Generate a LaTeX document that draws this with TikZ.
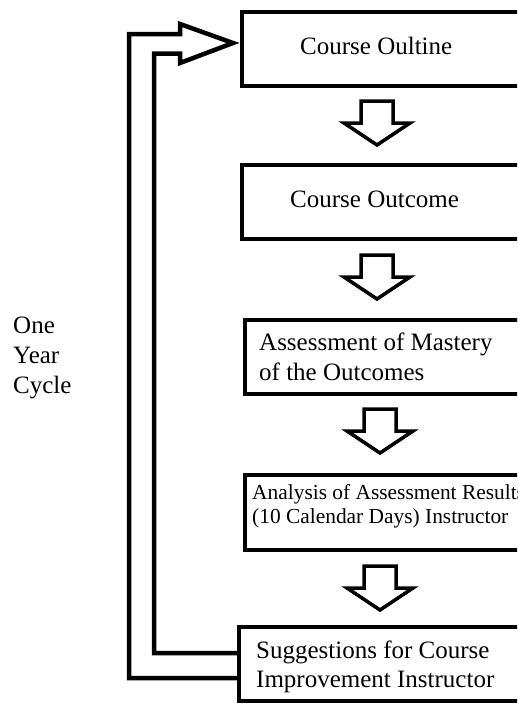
\documentclass[tikz,border=0pt]{standalone}
\usepackage{fontspec}
\setmainfont{Liberation Serif}
\begin{document}
\begin{tikzpicture}[x=1pt,y=-1pt,
  stagebox/.style={draw=black, line width=4pt, fill=white, outer sep=0pt,
    minimum width=330pt, minimum height=74pt, anchor=north west, inner sep=0pt},
  lbl/.style={inner sep=0pt, anchor=base west, align=left,
    font=\fontsize{25}{30}\selectfont},
  smalllbl/.style={lbl, font=\fontsize{21.4}{24}\selectfont},
  blockarrow/.style={draw=black, line width=3.5pt, fill=white, line join=miter},
  loop/.style={draw=black, line width=4.5pt, line join=miter},
  pics/downarrow/.style={code={
    \path[blockarrow] (-16,0) -- (16,0) -- (16,22) -- (33,22) -- (0,44)
      -- (-33,22) -- (-16,22) -- cycle;
  }}]
\useasboundingbox (0,0) rectangle (517,704);
\clip (0,0) rectangle (517,704);
\fill[white] (0,0) rectangle (517,704);

% stages of the cycle
\node[stagebox] (b1) at (242,12) {};
\node[stagebox] (b2) at (242,165) {};
\node[stagebox] (b3) at (245,320) {};
\node[stagebox, minimum height=75pt] (b4) at (245,475) {};
\node[stagebox] (b5) at (239,627) {};

% labels (multi-line labels are placed by their last baseline)
\node[lbl] (t1) at (300,54.5) {Course Oultine};
\node[lbl] (t2) at (290,207.5) {Course Outcome};
\node[lbl] (t3) at (259,380) {Assessment of Mastery\\of the Outcomes};
\node[smalllbl] (t4) at (252,523) {Analysis of Assessment Results\\(10 Calendar Days) Instructor};
\node[lbl, font=\fontsize{25}{29.5}\selectfont] (t5) at (256,687.5) {Suggestions for Course\\Improvement Instructor};

% block arrows between the stages
\pic (a1) at (377,101) {downarrow};
\pic (a2) at (377,255) {downarrow};
\pic (a3) at (380,409) {downarrow};
\pic (a4) at (380,566) {downarrow};

% feedback loop back to the first stage
\coordinate (lo1) at (b5.west |- 0,678);
\coordinate (li1) at (b5.west |- 0,653);
\coordinate (tip) at (233,43);
\path[loop] (lo1) -- (129,678) -- (129,34) -- (180,34) -- (180,24) -- (tip)
  -- (180,63) -- (180,53.5) -- (154,53.5) -- (154,653) -- (li1);

\node[lbl] (cyc) at (13,393) {One\\Year\\Cycle};
\end{tikzpicture}
\end{document}
